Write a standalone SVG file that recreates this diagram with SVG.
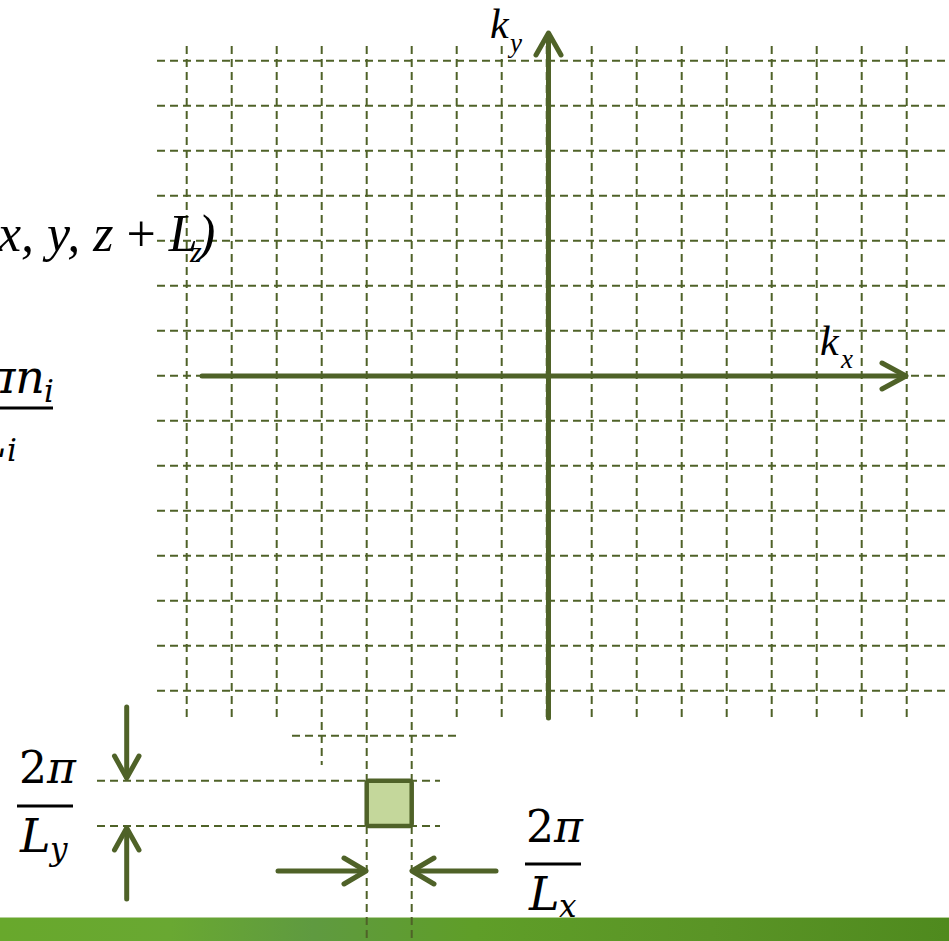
<svg xmlns="http://www.w3.org/2000/svg" width="949" height="941" viewBox="0 0 949 941">
<style>
.g{stroke:#4f6228;stroke-width:2;stroke-dasharray:8 5;fill:none}
.ax{stroke:#4f6228;stroke-width:5;fill:none;stroke-linecap:round;stroke-linejoin:round}
.t{font-family:"Liberation Serif","Times New Roman",serif;font-style:italic;fill:#000}
.m{font-family:"DejaVu Serif","Liberation Serif",serif;font-style:italic;fill:#000}
.up{font-style:normal}
.bar{fill:#000}
</style>
<defs>
<linearGradient id="gb" x1="0" y1="0" x2="1" y2="0">
<stop offset="0" stop-color="#68a82c"/>
<stop offset="0.18" stop-color="#69a832"/>
<stop offset="0.33" stop-color="#5f9a40"/>
<stop offset="0.5" stop-color="#5f9e28"/>
<stop offset="0.75" stop-color="#5a9426"/>
<stop offset="1" stop-color="#4f8a1e"/>
</linearGradient>
</defs>
<rect x="0" y="0" width="949" height="941" fill="#fff"/>
<rect id="footer" x="0" y="917" width="949" height="24" fill="url(#gb)"/>
<line x1="0" y1="917.5" x2="949" y2="917.5" stroke="#b5d09a" stroke-width="1"/>
<g id="grid">
<path class="g" d="M157 60.7H949M157 105.7H949M157 150.7H949M157 195.7H949M157 240.7H949M157 285.7H949M157 330.7H949M157 375.7H949M157 420.7H949M157 465.7H949M157 510.7H949M157 555.7H949M157 600.7H949M157 645.7H949M157 690.7H949"/>
<path class="g" d="M186.7 46V720M231.7 46V720M276.7 46V720M321.7 46V765M366.7 46V941M411.7 46V941M456.7 46V720M501.7 46V720M546.7 46V720M591.7 46V720M636.7 46V720M681.7 46V720M726.7 46V720M771.7 46V720M816.7 46V720M861.7 46V720M906.7 46V720"/>
<path class="g" d="M292 735.7H459M97 780.7H440M97 826H440"/>
</g>
<g id="connectors">
<g id="kx-axis"><path class="ax" d="M202 376H905"/><polyline class="ax" points="882,363 906,376 882,389"/></g>
<g id="ky-axis"><path class="ax" d="M548.5 718V34"/><polyline class="ax" points="536,55 548.5,33 561,55"/></g>
<g id="arrow-down"><path class="ax" d="M126.7 707V777"/><polyline class="ax" points="114.5,756 126.7,778 139,756"/></g>
<g id="arrow-up"><path class="ax" d="M126.7 899V829"/><polyline class="ax" points="114.5,850 126.7,828 139,850"/></g>
<g id="arrow-right"><path class="ax" d="M278 871H364"/><polyline class="ax" points="344,858 366,871 344,884"/></g>
<g id="arrow-left"><path class="ax" d="M496 871H414"/><polyline class="ax" points="434,858 412,871 434,884"/></g>
</g>
<g id="cell">
<rect x="366.7" y="780.7" width="45" height="45.3" rx="2" fill="#c4d79b" stroke="#4f6228" stroke-width="4.5"/>
</g>
<g id="label-ky">
<text class="t" x="490" y="38" font-size="42">k</text>
<text class="t" x="510" y="52" font-size="27">y</text>
</g>
<g id="label-kx">
<text class="t" x="820" y="355" font-size="42">k</text>
<text class="t" x="841" y="368" font-size="27">x</text>
</g>
<g id="label-periodic">
<text class="t" x="-2" y="251" font-size="52" xml:space="preserve">x, y, z <tspan class="up">+</tspan> L</text>
<text class="t" x="190" y="262" font-size="30">z</text>
<text class="t" x="198" y="251" font-size="52">)</text>
</g>
<g id="label-ki">
<text class="m" x="45" y="393" font-size="46" text-anchor="end"><tspan class="up">2</tspan>πn</text>
<text class="m" x="44" y="402" font-size="31">i</text>
<rect class="bar" x="0" y="406.5" width="53" height="3"/>
<text class="m" x="-24" y="457" font-size="46">L</text>
<text class="m" x="7" y="461" font-size="31">i</text>
</g>
<g id="label-ly">
<text class="m" x="19" y="783" font-size="44"><tspan class="up">2</tspan>π</text>
<rect class="bar" x="17" y="804.5" width="56" height="3"/>
<text class="m" x="20" y="852" font-size="46">L</text>
<text class="m" x="50" y="860" font-size="31">y</text>
</g>
<g id="label-lx">
<text class="m" x="526" y="842" font-size="44"><tspan class="up">2</tspan>π</text>
<rect class="bar" x="525" y="862.5" width="56" height="3"/>
<text class="m" x="529" y="910" font-size="46">L</text>
<text class="m" x="559" y="917" font-size="31">x</text>
</g>
</svg>
